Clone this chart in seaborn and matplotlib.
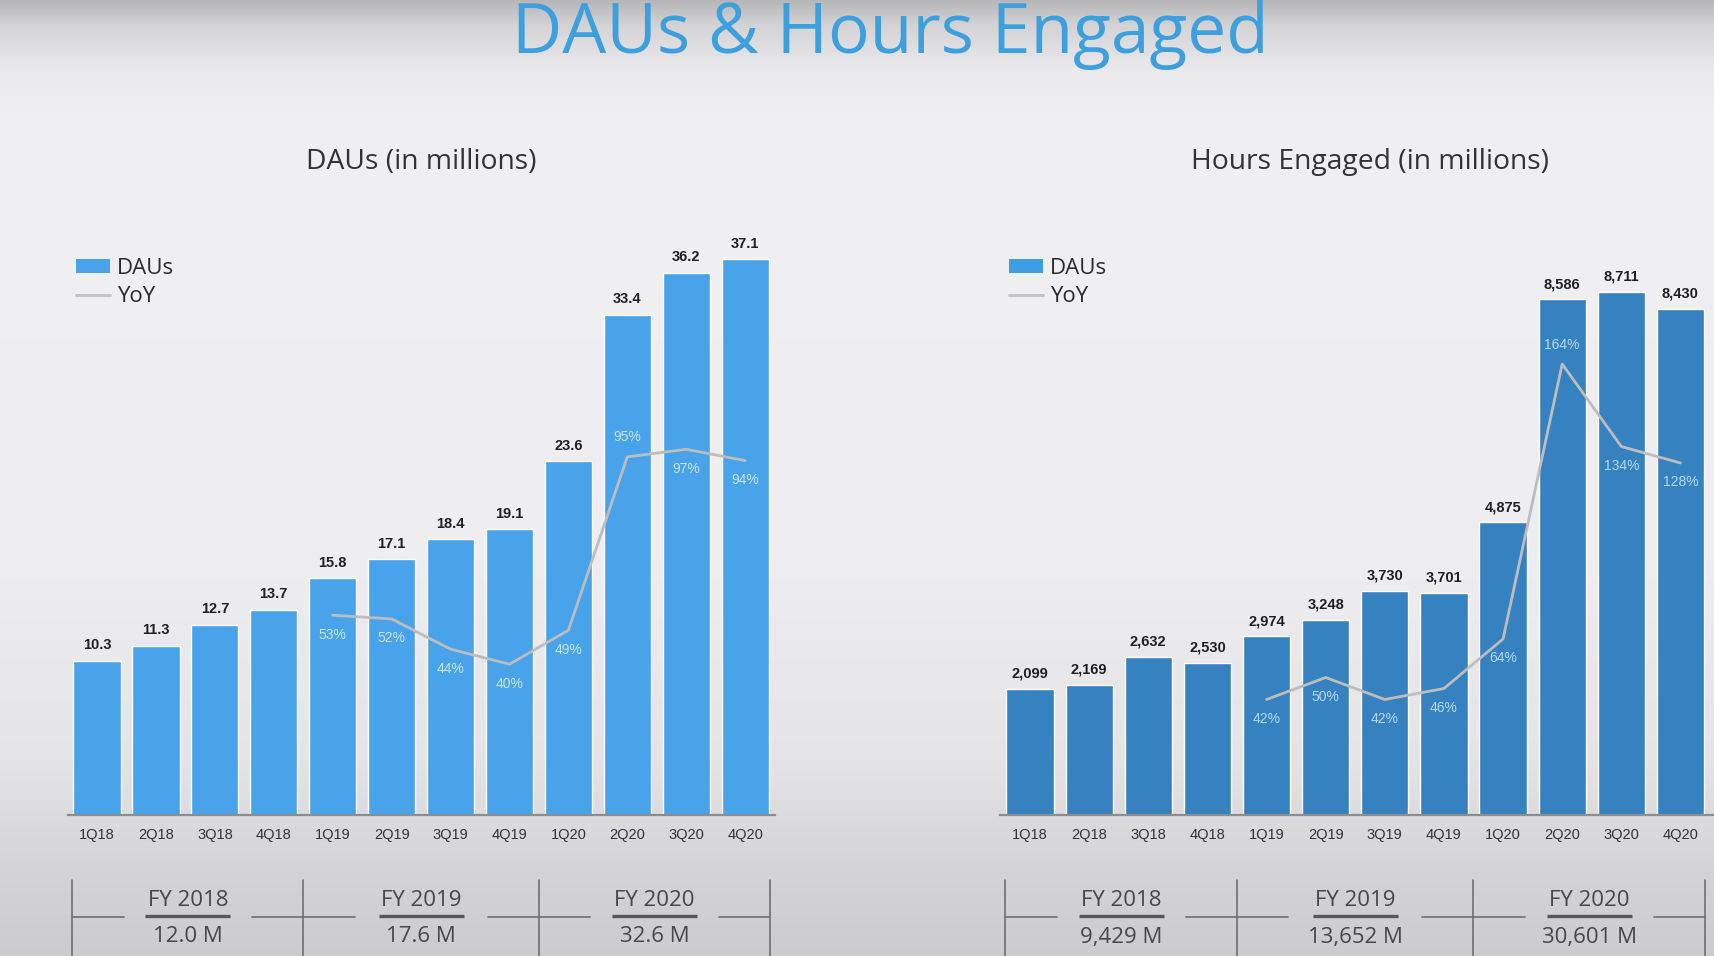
import numpy as np
import matplotlib
matplotlib.use("Agg")
import matplotlib.pyplot as plt
import seaborn as sns
from matplotlib.patches import Patch
from matplotlib.lines import Line2D

# ---------------- data ----------------
quarters = ['1Q18', '2Q18', '3Q18', '4Q18', '1Q19', '2Q19', '3Q19', '4Q19',
            '1Q20', '2Q20', '3Q20', '4Q20']
daus = [10.3, 11.3, 12.7, 13.7, 15.8, 17.1, 18.4, 19.1, 23.6, 33.4, 36.2, 37.1]
daus_yoy_quarters = ['1Q19', '2Q19', '3Q19', '4Q19', '1Q20', '2Q20', '3Q20', '4Q20']
daus_yoy = [53, 52, 44, 40, 49, 95, 97, 94]
hours = [2099, 2169, 2632, 2530, 2974, 3248, 3730, 3701, 4875, 8586, 8711, 8430]
hours_yoy_quarters = ['1Q19', '2Q19', '3Q19', '4Q19', '1Q20', '2Q20', '3Q20', '4Q20']
hours_yoy = [42, 50, 42, 46, 64, 164, 134, 128]
fy_labels = ['FY 2018', 'FY 2019', 'FY 2020']
fy_daus = ['12.0 M', '17.6 M', '32.6 M']
fy_hours = ['9,429 M', '13,652 M', '30,601 M']

W, H = 1715, 956
DPI = 100
sns.set_theme(style="white")
plt.rcParams['font.family'] = ['Open Sans', 'DejaVu Sans']

fig = plt.figure(figsize=(W / DPI, H / DPI), dpi=DPI)

# background gradient (video-frame look)
bg = fig.add_axes([0, 0, 1, 1], zorder=-10)
ys = np.arange(H)
prof = np.interp(ys, [0, 25, 70, 120, 560, 760, 860, 956],
                 [182, 212, 234, 240, 238, 228, 213, 204])
img = np.stack([prof, prof, prof + 3], axis=-1)[:, None, :].repeat(8, axis=1) / 255.0
img = np.clip(img, 0, 1)
bg.imshow(img, extent=[0, 1, 0, 1], aspect='auto', origin='upper')
bg.set_axis_off()


def px_axes(left, top, width, height):
    return [left / W, 1 - (top + height) / H, width / W, height / H]


BASE = 815
TOP = 230
AX_H = BASE - TOP

fig.text(890 / W, 1 - 53 / H, 'DAUs & Hours Engaged', ha='center', va='baseline',
         fontsize=50, fontweight='medium', color='#3d9fdc',
         family=['Open Sans', 'DejaVu Sans'])


def panel(left_px, width_px, values, yoy_q, yoy, ymax, yoymax, bar_color,
          legend_color, subtitle, sub_cx, val_fmt, yoy_color, fy_vals, extend_right):
    ax = fig.add_axes(px_axes(left_px, TOP, width_px, AX_H))
    ax.set_facecolor('none')
    sns.barplot(x=quarters, y=values, color=bar_color, saturation=1, width=0.8,
                ax=ax, zorder=2)
    ax.set_xlim(-0.5, 11.5)
    ax.set_ylim(0, ymax)
    ax.set_yticks([])
    ax.set_ylabel('')
    for s in ['left', 'right', 'top']:
        ax.spines[s].set_visible(False)
    ax.spines['bottom'].set_color('#8d8d90')
    ax.spines['bottom'].set_linewidth(1.6)
    if extend_right:
        ax.spines['bottom'].set_bounds(-0.5, 11.8)
    ax.tick_params(axis='x', length=0, pad=9, labelsize=10.5, labelcolor='#333333')
    for lab in ax.get_xticklabels():
        lab.set_family('Liberation Sans')
    for i, v in enumerate(values):
        ax.annotate(val_fmt(v), (i, v), xytext=(0, 11), textcoords='offset points',
                    ha='center', va='center', fontsize=10.5, fontweight='bold',
                    color='#202020', family='Liberation Sans')

    ax2 = ax.twinx()
    xi = [quarters.index(q) for q in yoy_q]
    sns.lineplot(x=xi, y=yoy, ax=ax2, color='#bdbdbd', lw=2.0, zorder=3)
    ax2.set_ylim(0, yoymax)
    ax2.set_xlim(-0.5, 11.5)
    ax2.set_yticks([])
    ax2.set_ylabel('')
    for s in ax2.spines.values():
        s.set_visible(False)
    prev = None
    for x, p in zip(xi, yoy):
        above = prev is not None and p - prev > 30
        ax2.annotate(f'{p}%', (x, p), xytext=(0, 14 if above else -14),
                     textcoords='offset points', ha='center', va='center',
                     fontsize=10, color=yoy_color, family='Liberation Sans')
        prev = p

    handles = [Patch(facecolor=legend_color, edgecolor='none'),
               Line2D([0], [0], color='#c4c4c4', lw=2.2)]
    ax2.legend(handles, ['DAUs', 'YoY'], loc='upper left',
               bbox_to_anchor=((left_px - 3) / W, 1 - 247 / H),
               bbox_transform=fig.transFigure, frameon=False, borderpad=0,
               handlelength=1.55, handleheight=0.6, handletextpad=0.3,
               labelspacing=0.33, prop={'family': 'Open Sans', 'size': 16},
               labelcolor='#2a2a2a')

    fig.text(sub_cx / W, 1 - 162 / H, subtitle, ha='center', va='center',
             fontsize=20.3, color='#333333')

    # fiscal-year summary strip
    tab = fig.add_axes(px_axes(left_px, 870, width_px, 86))
    tab.set_facecolor('none')
    tab.set_xlim(-0.5, 11.5)
    tab.set_ylim(0, 86)
    tab.set_axis_off()
    lc = '#6f6f72'
    seps = [-0.42, 3.5, 7.5, 11.42]
    for s in seps:
        tab.plot([s, s], [0, 76], color=lc, lw=1.2)
    for k in range(3):
        a, b = seps[k], seps[k + 1]
        c = (a + b) / 2
        tab.plot([a, a + 0.87], [39, 39], color=lc, lw=1.2)
        tab.plot([b - 0.87, b], [39, 39], color=lc, lw=1.2)
        tab.plot([c - 0.72, c + 0.72], [40, 40], color='#555558', lw=2.4,
                 solid_capstyle='butt')
        tab.text(c, 55, fy_labels[k], ha='center', va='center', fontsize=16,
                 color='#474747')
        tab.text(c, 19, fy_vals[k], ha='center', va='center', fontsize=16,
                 color='#474747')
    return ax


panel(67.6, 707, daus, daus_yoy_quarters, daus_yoy, AX_H / 14.98, AX_H / 3.77,
      '#48a3ea', '#48a3ea', 'DAUs (in millions)', 421,
      lambda v: f'{v:.1f}', '#c9e4f9', fy_daus, False)
panel(1000.5, 709.5, hours, hours_yoy_quarters, hours_yoy, AX_H / 0.06004,
      AX_H / 2.75, '#3681c0', '#3d9ee4', 'Hours Engaged (in millions)', 1370,
      lambda v: f'{v:,.0f}', '#b4daf6', fy_hours, True)

fig.savefig('out.png', dpi=DPI)
